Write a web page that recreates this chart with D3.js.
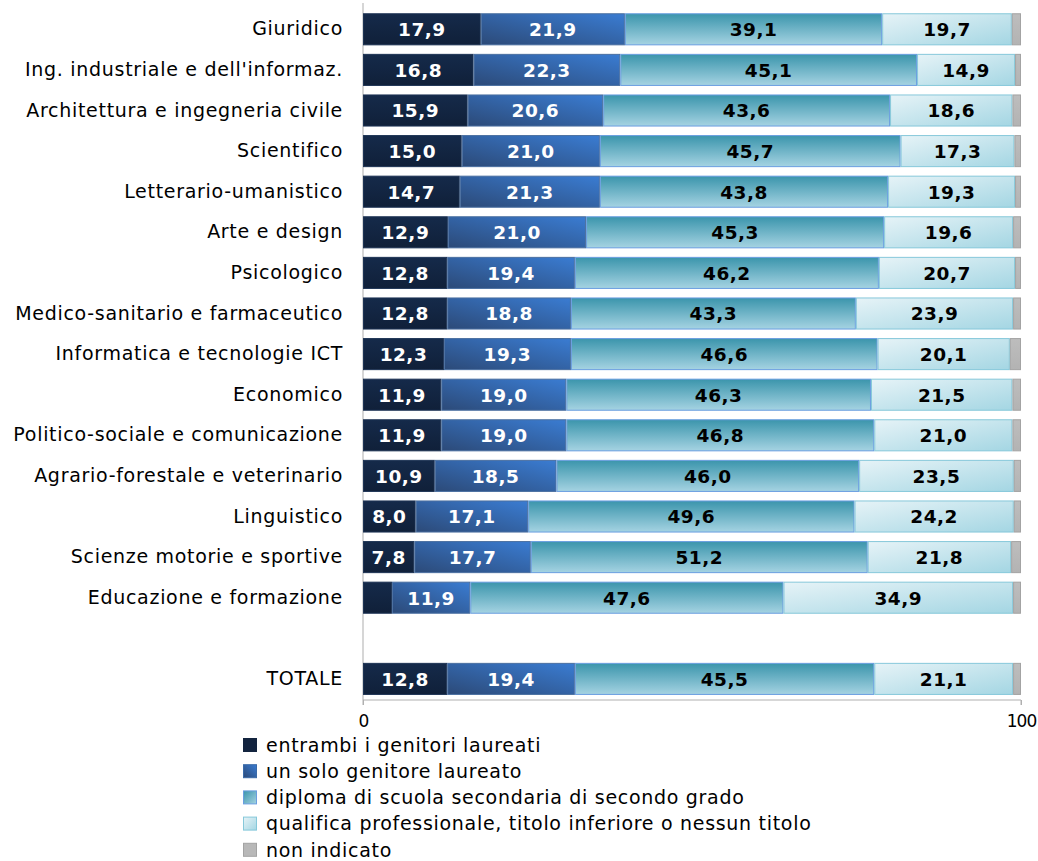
<!DOCTYPE html>
<html><head><meta charset="utf-8">
<script src="https://cdn.jsdelivr.net/npm/d3@7"></script>
<style>body{margin:0;background:#fff;} svg{display:block;font-family:"DejaVu Sans",Verdana,sans-serif;}</style>
</head><body><svg id="c" width="1038" height="861"></svg>
<script>
const categories = ["Giuridico","Ing. industriale e dell'informaz.","Architettura e ingegneria civile","Scientifico","Letterario-umanistico","Arte e design","Psicologico","Medico-sanitario e farmaceutico","Informatica e tecnologie ICT","Economico","Politico-sociale e comunicazione","Agrario-forestale e veterinario","Linguistico","Scienze motorie e sportive","Educazione e formazione","","TOTALE"];
const seriesNames = ["entrambi i genitori laureati","un solo genitore laureato","diploma di scuola secondaria di secondo grado","qualifica professionale, titolo inferiore o nessun titolo","non indicato"];
const entrambi = [17.9,16.8,15.9,15.0,14.7,12.9,12.8,12.8,12.3,11.9,11.9,10.9,8.0,7.8,4.4,null,12.8];
const unSolo   = [21.9,22.3,20.6,21.0,21.3,21.0,19.4,18.8,19.3,19.0,19.0,18.5,17.1,17.7,11.9,null,19.4];
const diploma  = [39.1,45.1,43.6,45.7,43.8,45.3,46.2,43.3,46.6,46.3,46.8,46.0,49.6,51.2,47.6,null,45.5];
const qualifica= [19.7,14.9,18.6,17.3,19.3,19.6,20.7,23.9,20.1,21.5,21.0,23.5,24.2,21.8,34.9,null,21.1];
const nonInd   = [1.4,0.9,1.3,1.0,0.9,1.2,0.9,1.2,1.7,1.3,1.3,1.1,1.1,1.5,1.2,null,1.2];
const xTicks = [0,100];

const svg = d3.select("#c");
const x = d3.scaleLinear().domain([0,100]).range([363,1021]);
const y = d3.scaleBand().domain(categories).range([9,699.2]).paddingInner(0.21).paddingOuter(0.105);

const defs = svg.append("defs");
function grad(id, x1,y1,x2,y2, stops){
  const g = defs.append("linearGradient").attr("id",id).attr("x1",x1).attr("y1",y1).attr("x2",x2).attr("y2",y2);
  stops.forEach(s=>g.append("stop").attr("offset",s[0]).attr("stop-color",s[1]));
}
grad("g0","0","0","0","1",[[0,"#152a4a"],[1,"#102039"]]);
grad("g1","0","1","1","0",[[0,"#2c4a78"],[1,"#3a7cd2"]]);
grad("g2","0","0","0","1",[[0,"#3b95ac"],[1,"#a5d3e2"]]);
grad("g3","0","0","1","1",[[0,"#e6f3f7"],[1,"#a4d6e3"]]);
grad("g4","0","0","0","1",[[0,"#bdbdbd"],[1,"#b3b3b3"]]);
grad("l1","0","1","1","0",[[0,"#2c4a78"],[1,"#3a7cd2"]]);
grad("l2","0","0","1","1",[[0,"#3b95ac"],[1,"#a5d3e2"]]);
const fills = ["url(#g0)","url(#g1)","url(#g2)","url(#g3)","url(#g4)"];
const strokes = ["#1d3354","#4a6fa0","#6a9ee0","#86c8da","#a3a3a3"];
const legendFills = ["#13243f","url(#l1)","url(#l2)","url(#g3)","#b8b8b8"];
const legendStrokes = ["#13243f","#3a6aa8","#6a9ee0","#86c8da","#a3a3a3"];
const textColors = ["#fff","#fff","#000","#000",null];

const seriesData = [entrambi,unSolo,diploma,qualifica,nonInd];
const rows = categories.map((c,i)=>{
  let cum=0; const segs=[];
  seriesData.forEach((s,k)=>{ const v=s[i]; if(v==null) return; segs.push({c,k,v,x0:cum,x1:cum+v}); cum+=v; });
  return segs;
});

svg.append("line").attr("x1",x(0)).attr("x2",x(0)).attr("y1",3).attr("y2",700).attr("stroke","#c8c8c8").attr("stroke-width",1.5);

const gBars = svg.append("g");
rows.forEach(segs=>{
  segs.forEach(s=>{
    gBars.append("rect")
      .attr("x",x(s.x0)+0.5).attr("y",y(s.c)+0.5)
      .attr("width",Math.max(0,x(s.x1)-x(s.x0)-1)).attr("height",y.bandwidth()-1)
      .attr("fill",fills[s.k]).attr("stroke",strokes[s.k]).attr("stroke-width",1);
    if(textColors[s.k] && s.v>=5){
      gBars.append("text").attr("x",(x(s.x0)+x(s.x1))/2).attr("y",y(s.c)+y.bandwidth()/2)
        .attr("dy","0.37em").attr("text-anchor","middle").attr("fill",textColors[s.k])
        .attr("font-weight","bold").attr("font-size",18.5).attr("letter-spacing","0.5")
        .text(d3.format(".1f")(s.v).replace(".",","));
    }
  });
});

const yAxis = d3.axisLeft(y).tickSize(0).tickPadding(20);
const ga = svg.append("g").attr("transform",`translate(${x(0)},0)`).call(yAxis);
ga.select(".domain").remove();
ga.selectAll("text").attr("font-size",19).attr("letter-spacing","0.7").attr("fill","#000").attr("font-family","DejaVu Sans, sans-serif");

const xAxis = d3.axisBottom(x).tickValues(xTicks).tickSize(5).tickPadding(10).tickFormat(d3.format("d"));
const gx = svg.append("g").attr("transform","translate(0,700)").call(xAxis);
gx.select(".domain").attr("stroke","#b0b0b0").attr("d",`M${x(0)},5V0H${x(100)}V5`);
gx.selectAll(".tick line").attr("stroke","#b0b0b0");
gx.selectAll("text").attr("font-size",17).attr("letter-spacing","-0.9").attr("fill","#000").attr("font-family","DejaVu Sans, sans-serif");

const lg = svg.append("g");
seriesNames.forEach((n,i)=>{
  const yy = 745 + i*26.2;
  lg.append("rect").attr("x",243.5).attr("y",yy-6.5).attr("width",13).attr("height",13)
    .attr("fill",legendFills[i]).attr("stroke",legendStrokes[i]);
  lg.append("text").attr("x",266).attr("y",yy).attr("dy","0.36em").attr("font-size",19).attr("letter-spacing","0.7").attr("fill","#000").text(n);
});
</script></body></html>
